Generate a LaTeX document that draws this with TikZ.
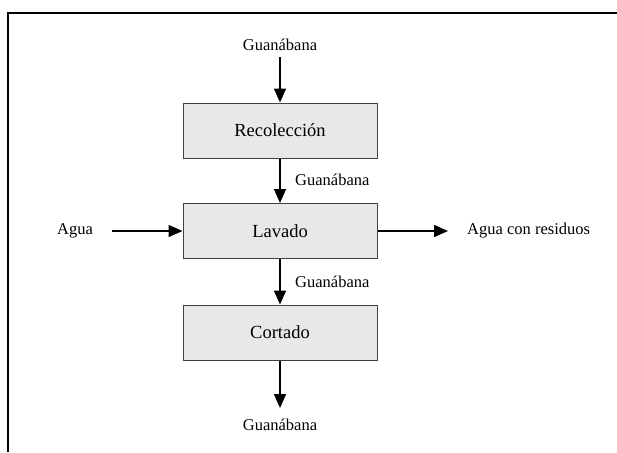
\documentclass[tikz,border=0pt]{standalone}
\usepackage{fontspec}
\setmainfont{Liberation Serif}
\usetikzlibrary{arrows.meta}
\begin{document}
\begin{tikzpicture}[x=1pt,y=-1pt,
  procbox/.style={draw=black!75, line width=1pt, fill=black!9, minimum width=194pt, minimum height=55pt, inner sep=0pt, font=\fontsize{18.5}{20}\selectfont},
  lbl/.style={inner sep=0pt, font=\fontsize{16.5}{18}\selectfont},
  flow/.style={line width=1.6pt, -{Triangle[length=14pt,width=12pt]}}]
\useasboundingbox (0,0) rectangle (617,452);
\draw[line width=2pt] (8,452) -- (8,13) -- (617,13);
\node[procbox] (rec) at (280,130.5) {Recolección};
\node[procbox] (lav) at (280,231) {Lavado};
\node[procbox] (cor) at (280,332.5) {Cortado};
\node[lbl] (g0) at (280,45) {Guanábana};
\node[lbl, anchor=west] (g1) at (295,180) {Guanábana};
\node[lbl, anchor=west] (g2) at (295,282) {Guanábana};
\node[lbl] (g3) at (280,425) {Guanábana};
\node[lbl] (agua) at (75,231) {Agua};
\node[lbl, anchor=west] (res) at (467,231) {Agua con residuos};
\coordinate (top) at (280,57);
\coordinate (bot) at (280,408);
\coordinate (win) at (112,231);
\coordinate (wout) at (448,231);
\draw[flow] (top) -- (rec.north);
\draw[flow] (rec.south) -- (lav.north);
\draw[flow] (lav.south) -- (cor.north);
\draw[flow] (cor.south) -- (bot);
\draw[flow] (win) -- (lav.west);
\draw[flow] (lav.east) -- (wout);
\end{tikzpicture}
\end{document}
